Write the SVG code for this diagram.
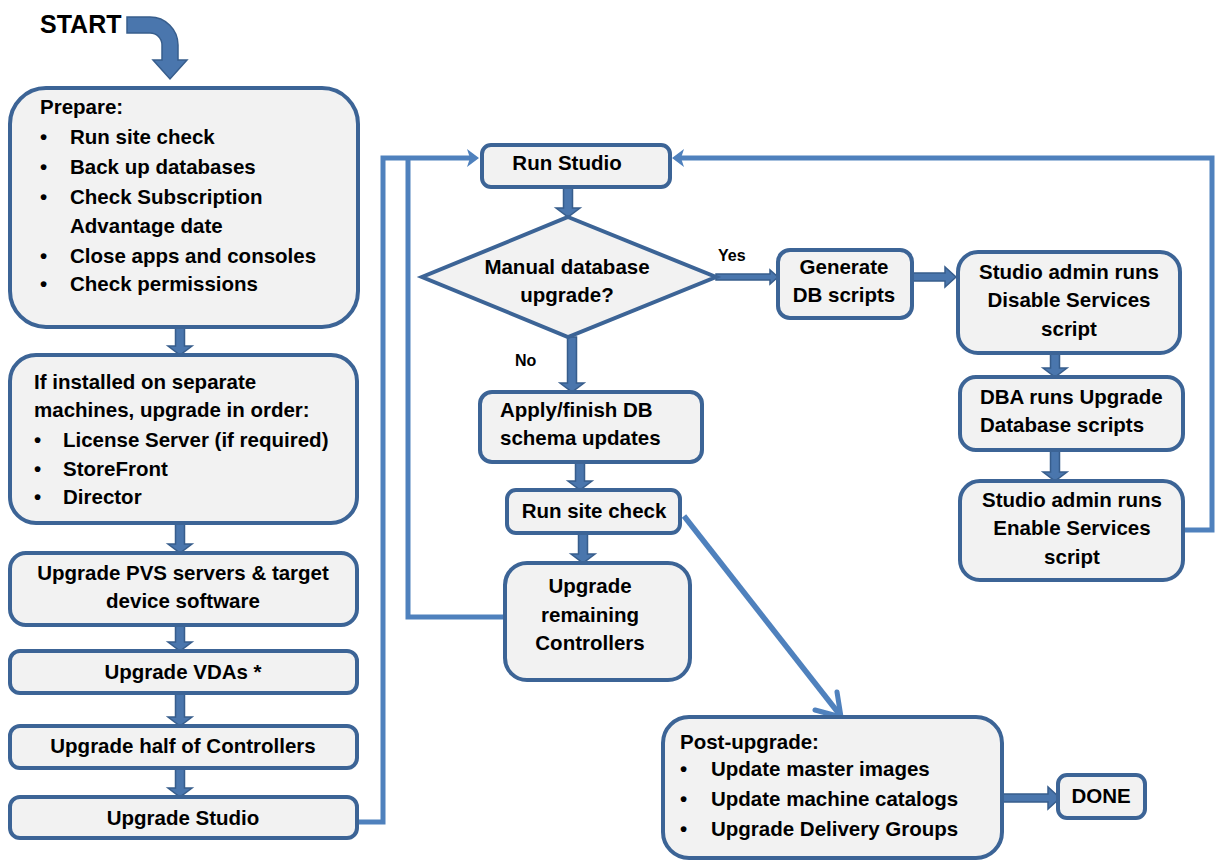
<svg xmlns="http://www.w3.org/2000/svg" width="1216" height="860" viewBox="0 0 1216 860">
<style>
.box{fill:#f2f2f2;stroke:#3c6496;stroke-width:4}
.t{font-family:"Liberation Sans",Arial,sans-serif;font-weight:bold;font-size:20.5px;fill:#000}
.c{text-anchor:middle}
.blk{fill:#4a76ad;stroke:#375d8c;stroke-width:1.5}
.ln{fill:none;stroke:#4f81bd;stroke-width:5}
.hd{fill:#4f81bd}
</style>
<rect width="1216" height="860" fill="#ffffff"/>
<g id="start">
<text class="t" x="40" y="33" style="font-size:25px">START</text>
<path class="blk" d="M127,17 H150 A28,28 0 0 1 178,45 V60 H187 L170,79 L153,60 H162 V45 A12,12 0 0 0 150,33 H127 Z"/>
</g>
<g id="connectors">
<path class="blk" d="M175.5,327 H184.5 V346 H192 L180,355 L168,346 H175.5 Z"/>
<path class="blk" d="M175.5,523 H184.5 V544 H192 L180,553 L168,544 H175.5 Z"/>
<path class="blk" d="M175.5,625 H184.5 V642 H192 L180,651 L168,642 H175.5 Z"/>
<path class="blk" d="M175.5,693 H184.5 V717 H192 L180,726 L168,717 H175.5 Z"/>
<path class="blk" d="M175.5,768 H184.5 V788 H192 L180,797 L168,788 H175.5 Z"/>
<path class="blk" d="M563.5,187 H572.5 V208 H580 L568,217 L556,208 H563.5 Z"/>
<path class="blk" d="M567.5,337 H576.5 V383 H584 L572,392 L560,383 H567.5 Z"/>
<path class="blk" d="M575.5,462 H584.5 V481 H592 L580,490 L568,481 H575.5 Z"/>
<path class="blk" d="M578.5,533 H587.5 V554 H595 L583,563 L571,554 H578.5 Z"/>
<path class="blk" d="M1050.5,353 H1059.5 V368 H1067 L1055,377 L1043,368 H1050.5 Z"/>
<path class="blk" d="M1050.5,450 H1059.5 V472 H1067 L1055,481 L1043,472 H1050.5 Z"/>
<path class="blk" d="M716,274 H770 V270 L778,277 L770,284 V280 H716 Z"/>
<path class="blk" d="M912,273 H945 V267 L956,277 L945,287 V281 H912 Z"/>
<path class="blk" d="M1002,794 H1048 V787 L1060,798 L1048,809 V802 H1002 Z"/>
<polyline class="ln" points="357,822 383,822 383,158 470,158"/>
<polyline class="ln" points="505,617 408,617 408,158"/>
<path class="hd" d="M467,149 L479,158 L467,167 L470,158 Z"/>
<polyline class="ln" points="1183,530 1212,530 1212,158 681,158"/>
<path class="hd" d="M684,149 L672,158 L684,167 L681,158 Z"/>
<line class="ln" x1="684" y1="516" x2="840" y2="715" style="stroke-width:5.5"/>
<polyline class="ln" points="815,710 841,717 837,692" stroke-linejoin="round" stroke-linecap="round"/>
<text class="t" x="718" y="261" style="font-size:16px">Yes</text>
<text class="t" x="515" y="366" style="font-size:16px">No</text>
</g>
<g id="prepare">
<rect class="box" x="10" y="88" width="348" height="239" rx="36"/>
<text class="t" x="40" y="114">Prepare:</text>
<text class="t" x="40" y="144">•</text><text class="t" x="70" y="144">Run site check</text>
<text class="t" x="40" y="174">•</text><text class="t" x="70" y="174">Back up databases</text>
<text class="t" x="40" y="204">•</text><text class="t" x="70" y="204">Check Subscription</text>
<text class="t" x="70" y="233">Advantage date</text>
<text class="t" x="40" y="263">•</text><text class="t" x="70" y="263">Close apps and consoles</text>
<text class="t" x="40" y="291">•</text><text class="t" x="70" y="291">Check permissions</text>
</g>
<g id="separate">
<rect class="box" x="10" y="355" width="347" height="168" rx="26"/>
<text class="t" x="34" y="389">If installed on separate</text>
<text class="t" x="34" y="417">machines, upgrade in order:</text>
<text class="t" x="34" y="447">•</text><text class="t" x="63" y="447">License Server (if required)</text>
<text class="t" x="34" y="476">•</text><text class="t" x="63" y="476">StoreFront</text>
<text class="t" x="34" y="504">•</text><text class="t" x="63" y="504">Director</text>
</g>
<g id="pvs">
<rect class="box" x="10" y="553" width="347" height="72" rx="16"/>
<text class="t c" x="183" y="580">Upgrade PVS servers &amp; target</text>
<text class="t c" x="183" y="608">device software</text>
</g>
<g id="vdas">
<rect class="box" x="10" y="651" width="347" height="42" rx="10"/>
<text class="t c" x="183" y="679">Upgrade VDAs *</text>
</g>
<g id="half">
<rect class="box" x="10" y="726" width="347" height="42" rx="10"/>
<text class="t c" x="183" y="753">Upgrade half of Controllers</text>
</g>
<g id="upstudio">
<rect class="box" x="10" y="797" width="347" height="41" rx="10"/>
<text class="t c" x="183" y="825">Upgrade Studio</text>
</g>
<g id="runstudio">
<rect class="box" x="482" y="145" width="188" height="42" rx="9"/>
<text class="t c" x="567" y="170">Run Studio</text>
</g>
<g id="decision">
<polygon class="box" points="568,217 716,277 568,337 422,277"/>
<text class="t c" x="567" y="274">Manual database</text>
<text class="t c" x="567" y="302">upgrade?</text>
</g>
<g id="generate">
<rect class="box" x="778" y="250" width="134" height="68" rx="12"/>
<text class="t c" x="844" y="274">Generate</text>
<text class="t c" x="844" y="302">DB scripts</text>
</g>
<g id="disable">
<rect class="box" x="958" y="252" width="222" height="101" rx="20"/>
<text class="t c" x="1069" y="279">Studio admin runs</text>
<text class="t c" x="1069" y="307">Disable Services</text>
<text class="t c" x="1069" y="336">script</text>
</g>
<g id="dba">
<rect class="box" x="960" y="377" width="223" height="73" rx="16"/>
<text class="t" x="980" y="404">DBA runs Upgrade</text>
<text class="t" x="980" y="432">Database scripts</text>
</g>
<g id="enable">
<rect class="box" x="960" y="481" width="223" height="99" rx="20"/>
<text class="t c" x="1072" y="507">Studio admin runs</text>
<text class="t c" x="1072" y="535">Enable Services</text>
<text class="t c" x="1072" y="564">script</text>
</g>
<g id="apply">
<rect class="box" x="480" y="392" width="222" height="70" rx="12"/>
<text class="t" x="500" y="417">Apply/finish DB</text>
<text class="t" x="500" y="445">schema updates</text>
</g>
<g id="sitecheck">
<rect class="box" x="507" y="490" width="173" height="43" rx="9"/>
<text class="t c" x="594" y="518">Run site check</text>
</g>
<g id="remaining">
<rect class="box" x="505" y="563" width="185" height="117" rx="22"/>
<text class="t c" x="590" y="593">Upgrade</text>
<text class="t c" x="590" y="622">remaining</text>
<text class="t c" x="590" y="650">Controllers</text>
</g>
<g id="post">
<rect class="box" x="663" y="717" width="339" height="141" rx="26"/>
<text class="t" x="680" y="749">Post-upgrade:</text>
<text class="t" x="680" y="776">•</text><text class="t" x="711" y="776">Update master images</text>
<text class="t" x="680" y="806">•</text><text class="t" x="711" y="806">Update machine catalogs</text>
<text class="t" x="680" y="836">•</text><text class="t" x="711" y="836">Upgrade Delivery Groups</text>
</g>
<g id="done">
<rect class="box" x="1058" y="775" width="87" height="43" rx="9"/>
<text class="t c" x="1101" y="803">DONE</text>
</g>
</svg>
